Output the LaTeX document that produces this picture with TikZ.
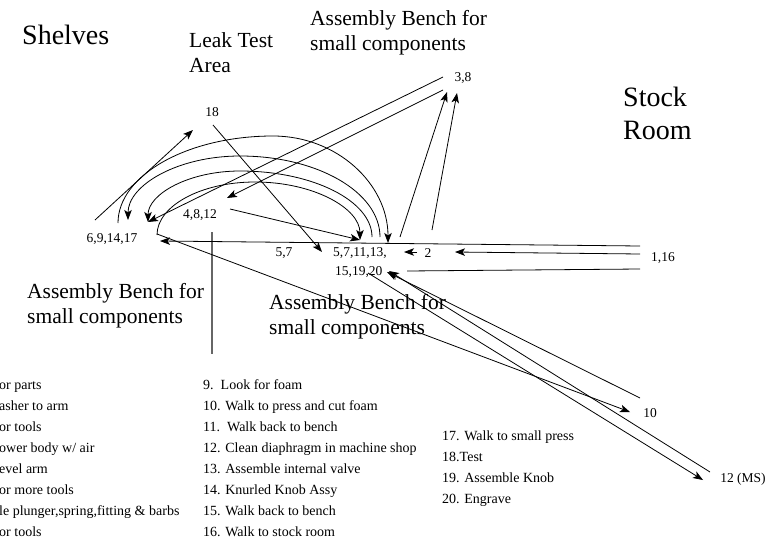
\documentclass[tikz,border=0pt]{standalone}
\usepackage{fontspec}
\setmainfont{Liberation Serif}
\usetikzlibrary{arrows.meta}
\begin{document}
\begin{tikzpicture}[x=1pt,y=-1pt,
  flow/.style={line width=0.8pt, -{Stealth[length=10pt,width=7.5pt,inset=2.5pt]}},
  plain/.style={line width=0.8pt},
  area/.style={font=\fontsize{21.5}{25}\selectfont, align=left, anchor=north west, inner sep=0pt},
  room/.style={font=\fontsize{28}{33}\selectfont, align=left, anchor=north west, inner sep=0pt},
  stn/.style={font=\fontsize{13.5}{16}\selectfont, inner sep=0pt},
  item/.style={font=\fontsize{14}{16}\selectfont, anchor=base west, inner sep=0pt},
]
\useasboundingbox (0,0) rectangle (779,543);

% area names
\node[room] (shelves) at (22,25) {Shelves};
\node[room] (stock) at (623,87) {Stock\\Room};
\node[area] (leak) at (189,32) {Leak Test\\Area};
\node[area] (benchtop) at (310,10) {Assembly Bench for\\small components};
\node[area] (benchleft) at (27,283) {Assembly Bench for\\small components};
\node[area] (benchmid) at (269,294) {Assembly Bench for\\small components};

% divider
\draw[black!60, line width=1.1pt] (212,232) coordinate (divtop) -- (212,354) coordinate (divbot);

% station labels
\node[stn] (s18) at (212,112) {18};
\node[stn] (s38) at (463,78) {3,8};
\node[stn] (s4812) at (200,215) {4,8,12};
\node[stn] (s6914) at (112,239) {6,9,14,17};
\node[stn] (s57) at (284,253) {5,7};
\node[stn, anchor=west] (sb1) at (333,253) {5,7,11,13,};
\node[stn, anchor=west] (sb2) at (335,272) {15,19,20};
\node[stn] (s2) at (428,253) {2};
\node[stn] (s116) at (663,258) {1,16};
\node[stn] (s10) at (650,413) {10};
\node[stn] (s12ms) at (743,479) {12 (MS)};

% connector end points
\coordinate (a6914up) at (95,220);
\coordinate (a18in) at (193,130);
\coordinate (a18out) at (213,125);
\coordinate (abenchin18) at (322,252);
\coordinate (a38outA) at (443,77);
\coordinate (a38outB) at (443,90);
\coordinate (a6914inA) at (148,222);
\coordinate (a4812in) at (227,198);
\coordinate (a4812out) at (230,209);
\coordinate (abenchinA) at (360,240);
\coordinate (abenchoutA) at (400,237);
\coordinate (a38inA) at (447,92);
\coordinate (a2up) at (432,230);
\coordinate (a38inB) at (457,93);
\coordinate (a116A) at (640,246);
\coordinate (a6914inB) at (160,241);
\coordinate (a116B) at (640,254);
\coordinate (a2in) at (455,252);
\coordinate (a2out) at (417,252);
\coordinate (abenchin2) at (404,252);
\coordinate (a116C) at (640,269);
\coordinate (abench2C) at (407,271);
\coordinate (a6914out) at (157,234);
\coordinate (a10in) at (630,412);
\coordinate (a10out) at (640,398);
\coordinate (abench2in10) at (387,272);
\coordinate (abench2out) at (368,273);
\coordinate (a12in) at (703,480);
\coordinate (a12out) at (710,472);
\coordinate (abench2in12) at (389,271);

% arcs between the two benches
\coordinate (arcAs) at (118,223);
\coordinate (arcAe) at (388,243);
\coordinate (arcBs) at (380,237);
\coordinate (arcBe) at (128,220);
\coordinate (arcCs) at (372,237);
\coordinate (arcCe) at (148,222);
\coordinate (arcDs) at (157,235);
\coordinate (arcDe) at (360,240);

\draw[flow] (arcAs) .. controls (118,175) and (188,136) .. (273,136)
  .. controls (337,136) and (388,184) .. (arcAe);
\draw[flow] (arcBs) .. controls (380,192) and (317,156) .. (240,156)
  .. controls (178,156) and (128,185) .. (arcBe);
\draw[flow] (arcCs) .. controls (372,201) and (313,171) .. (240,171)
  .. controls (189,171) and (148,194) .. (arcCe);
\draw[flow] (arcDs) .. controls (157,206) and (201,182) .. (255,182)
  .. controls (313,182) and (360,208) .. (arcDe);

% straight moves
\draw[flow] (a6914up) -- (a18in);
\draw[flow] (a18out) -- (abenchin18);
\draw[flow] (a38outA) -- (a6914inA);
\draw[flow] (a38outB) -- (a4812in);
\draw[flow] (a4812out) -- (abenchinA);
\draw[flow] (abenchoutA) -- (a38inA);
\draw[flow] (a2up) -- (a38inB);
\draw[flow] (a116A) -- (a6914inB);
\draw[flow] (a116B) -- (a2in);
\draw[flow] (a2out) -- (abenchin2);
\draw[plain] (a116C) -- (abench2C);
\draw[flow] (a6914out) -- (a10in);
\draw[flow] (a10out) -- (abench2in10);
\draw[flow] (abench2out) -- (a12in);
\draw[flow] (a12out) -- (abench2in12);

% step list
\node[item] (l1) at (-1,389) {or parts};
\node[item] (l2) at (-1,410) {asher to arm};
\node[item] (l3) at (-1,431) {or tools};
\node[item] (l4) at (-1,452) {ower body w/ air};
\node[item] (l5) at (-1,473) {evel arm};
\node[item] (l6) at (-1,494) {or more tools};
\node[item] (l7) at (-1,515) {le plunger,spring,fitting \& barbs};
\node[item] (l8) at (-1,536) {or tools};

\node[item] (l9) at (203,389) {9.\ \ Look for foam};
\node[item] (l10) at (203,410) {10. Walk to press and cut foam};
\node[item] (l11) at (203,431) {11.\ \ Walk back to bench};
\node[item] (l12) at (203,452) {12. Clean diaphragm in machine shop};
\node[item] (l13) at (203,473) {13. Assemble internal valve};
\node[item] (l14) at (203,494) {14. Knurled Knob Assy};
\node[item] (l15) at (203,515) {15. Walk back to bench};
\node[item] (l16) at (203,536) {16. Walk to stock room};

\node[item] (l17) at (442,440) {17. Walk to small press};
\node[item] (l18) at (442,461) {18.Test};
\node[item] (l19) at (442,482) {19. Assemble Knob};
\node[item] (l20) at (442,503) {20. Engrave};
\end{tikzpicture}
\end{document}
